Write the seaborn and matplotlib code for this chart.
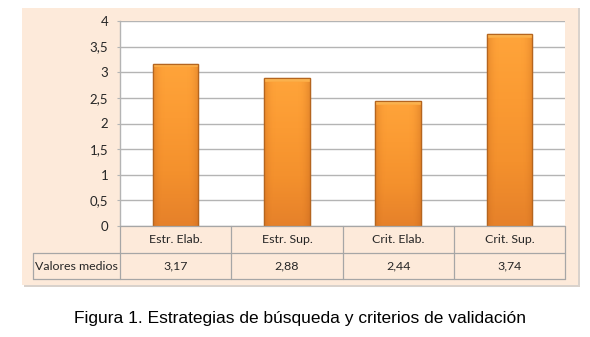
import numpy as np
import pandas as pd
import matplotlib
matplotlib.use("Agg")
import matplotlib.pyplot as plt
from matplotlib.patches import Rectangle
from matplotlib.colors import LinearSegmentedColormap
import seaborn as sns

# Data
categories = ["Estr. Elab.", "Estr. Sup.", "Crit. Elab.", "Crit. Sup."]
values = [3.17, 2.88, 2.44, 3.74]
row_label = "Valores medios"
y_ticks = [0, 0.5, 1, 1.5, 2, 2.5, 3, 3.5, 4]
caption = "Figura 1. Estrategias de búsqueda y criterios de validación"

sns.set_theme(style="white")
plt.rcParams["font.family"] = ["Lato", "DejaVu Sans"]

W, H = 590, 337
fig = plt.figure(figsize=(W / 100, H / 100), dpi=100)
fig.patch.set_facecolor("white")


def fx(px):
    return px / W


def fy(py):
    return 1 - py / H


PEACH = "#FDEADA"
GRID = "#B4B4B4"
BORDER = "#A6A6A6"
TEXT = "#262626"
FS = 8.9

# Chart-area panel with a soft shadow
fig.add_artist(Rectangle((fx(24), fy(287)), fx(556), 279 / H, transform=fig.transFigure,
                         facecolor="#D9D2CC", edgecolor="none", zorder=0))
fig.add_artist(Rectangle((fx(22), fy(285)), fx(556), 277 / H, transform=fig.transFigure,
                         facecolor=PEACH, edgecolor="none", zorder=0))

# Plot area
left_px, right_px, top_px, bot_px = 120, 565, 21, 226
ax = fig.add_axes([fx(left_px), fy(bot_px), fx(right_px - left_px), (bot_px - top_px) / H])
ax.set_facecolor("white")

df = pd.DataFrame({"cat": categories, "val": values})
sns.barplot(data=df, x="cat", y="val", width=0.41, color="#F7982E",
            edgecolor="#B5651F", linewidth=0.9, ax=ax, zorder=3)

# Glossy shading on each bar: vertical body gradient, light top bevel, darker sides
body = LinearSegmentedColormap.from_list("body", ["#E6812A", "#F4912D", "#FB9B33", "#FFA43A"])
sides = LinearSegmentedColormap.from_list(
    "sides", [(0.75, 0.38, 0.10, 0.35), (1, 0.6, 0.2, 0.0), (1, 0.6, 0.2, 0.0),
              (1, 0.6, 0.2, 0.0), (0.75, 0.38, 0.10, 0.35)])
capmap = LinearSegmentedColormap.from_list("cap", ["#FBA73F", "#FDC465"])
for p in ax.patches[:len(values)]:
    x0, w, h = p.get_x(), p.get_width(), p.get_height()
    im = ax.imshow(np.linspace(0, 1, 64).reshape(-1, 1), cmap=body, aspect="auto",
                   extent=(x0, x0 + w, 0, h), origin="lower", zorder=3.5,
                   interpolation="bicubic")
    im.set_clip_path(p)
    sd = ax.imshow(np.linspace(0, 1, 64).reshape(1, -1), cmap=sides, aspect="auto",
                   extent=(x0, x0 + w, 0, h), zorder=3.55, interpolation="bicubic")
    sd.set_clip_path(p)
    cap_h = 0.07
    top = ax.imshow(np.linspace(0, 1, 32).reshape(-1, 1), cmap=capmap, aspect="auto",
                    extent=(x0, x0 + w, h - cap_h, h), origin="lower",
                    zorder=3.6, interpolation="bicubic")
    top.set_clip_path(p)
    ax.add_patch(Rectangle((x0, 0), w, h, facecolor="none", edgecolor="#B5651F",
                           linewidth=0.9, zorder=4))

ax.set_xlim(-0.5, 3.5)
ax.set_ylim(0, 4)
ax.set_yticks(y_ticks)
ax.set_yticklabels([f"{t:g}".replace(".", ",") for t in y_ticks], fontsize=9.5, color=TEXT)
ax.set_xticks([])
ax.set_xlabel("")
ax.set_ylabel("")
ax.yaxis.grid(True, color=GRID, linewidth=1.0, zorder=0)
ax.set_axisbelow(True)
ax.tick_params(axis="y", length=2.5, width=0.8, color=GRID, pad=6, left=True)
for s in ["top", "right", "bottom"]:
    ax.spines[s].set_visible(False)
ax.spines["left"].set_color(GRID)
ax.spines["left"].set_linewidth(1.0)

# Data table below the plot
tab_left, tab_mid, tab_bot = 33, 253, 279
unit = (right_px - left_px) / 4
tax = fig.add_axes([fx(tab_left), fy(tab_bot), fx(right_px - tab_left), (tab_bot - bot_px) / H])
tax.set_xlim(-0.5 - (left_px - tab_left) / unit, 3.5)
tax.set_ylim(0, tab_bot - bot_px)
tax.axis("off")
lbl_left = -0.5 - (left_px - tab_left) / unit
row_h = tab_bot - tab_mid
hdr_h = tab_mid - bot_px
lw = 0.9
# horizontal rules
tax.plot([-0.5, 3.5], [row_h + hdr_h] * 2, color=BORDER, lw=lw, clip_on=False)
tax.plot([lbl_left, 3.5], [row_h] * 2, color=BORDER, lw=lw, clip_on=False)
tax.plot([lbl_left, 3.5], [0, 0], color=BORDER, lw=lw, clip_on=False)
# vertical rules
tax.plot([lbl_left, lbl_left], [0, row_h], color=BORDER, lw=lw, clip_on=False)
for i in range(5):
    tax.plot([i - 0.5, i - 0.5], [0, row_h + hdr_h], color=BORDER, lw=lw, clip_on=False)
for i, (c, v) in enumerate(zip(categories, values)):
    tax.text(i, row_h + hdr_h / 2, c, ha="center", va="center", fontsize=FS, color=TEXT)
    tax.text(i, row_h / 2, f"{v:.2f}".replace(".", ","), ha="center", va="center",
             fontsize=FS, color=TEXT)
tax.text((lbl_left - 0.5) / 2, row_h / 2, row_label, ha="center", va="center",
         fontsize=FS, color=TEXT)

# Figure caption
fig.text(fx(300), fy(318), caption, ha="center", va="center", fontsize=12.5,
         family=["Liberation Sans", "DejaVu Sans"], color="#000000")

fig.savefig("out.png", dpi=100, facecolor="white")
